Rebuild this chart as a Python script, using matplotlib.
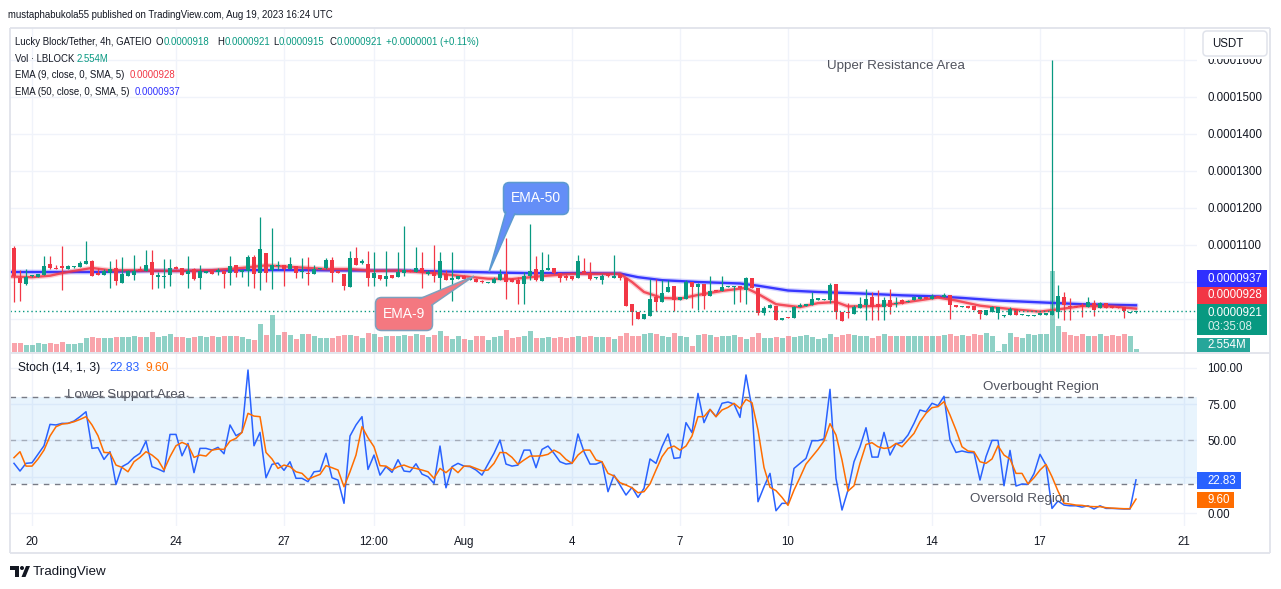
import numpy as np
import pandas as pd
import matplotlib
matplotlib.use("Agg")
import matplotlib.pyplot as plt
import matplotlib.dates as mdates
from matplotlib.patches import FancyBboxPatch, Rectangle, Polygon, Circle
from matplotlib.ticker import FuncFormatter

W, H = 1281, 589
plt.rcParams['font.family'] = ['Liberation Sans', 'DejaVu Sans']

# ---------------- data (prices in units of 1e-7 USDT) ----------------
SCALE = 1e-7
start_time = "2023-07-19 12:00"
opens = [1092, 1011, 995, 1016, 1014, 1019, 1049, 1038, 1043, 1035,
         1040, 1040, 1049, 1057, 1024, 1019, 1024, 1038, 997, 1016,
         1019, 1035, 1030, 1054, 1013, 1014, 1019, 1040, 1038, 1022,
         1035, 1011, 1024, 1030, 1027, 1030, 1024, 1046, 1027, 1030,
         1068, 1024, 1078, 1032, 1043, 1046, 1035, 1043, 1027, 1024,
         1022, 1035, 1038, 1060, 1030, 1022, 986, 1065, 1051, 1049,
         1011, 1019, 1008, 1019, 1013, 1024, 1032, 1027, 1038, 1022,
         1027, 1011, 1022, 1005, 1008, 1016, 1005, 1008, 1003, 997,
         997, 1005, 1022, 1008, 1005, 995, 1016, 1035, 1003, 1032,
         1038, 1024, 1016, 1016, 1011, 1030, 1024, 1011, 1005, 1022,
         1011, 1022, 1011, 940, 919, 900, 908, 960, 946, 973,
         989, 951, 954, 1000, 987, 995, 962, 978, 976, 987,
         987, 989, 978, 1011, 984, 916, 930, 935, 897, 905,
         903, 932, 935, 938, 951, 952, 951, 995, 919, 919,
         913, 930, 938, 960, 940, 932, 951, 940, 951, 946,
         951, 954, 960, 954, 962, 960, 965, 938, 932, 935,
         935, 924, 911, 919, 916, 908, 911, 927, 911, 908,
         908, 911, 911, 911, 919, 960, 935, 935, 938, 932,
         943, 930, 943, 935, 932, 932, 916, 918]
highs = [1097, 1032, 1035, 1019, 1022, 1070, 1070, 1046, 1097, 1046,
         1043, 1057, 1111, 1060, 1038, 1035, 1057, 1062, 1068, 1032,
         1073, 1043, 1086, 1086, 1027, 1062, 1062, 1043, 1038, 1070,
         1038, 1046, 1030, 1030, 1038, 1030, 1070, 1046, 1032, 1073,
         1073, 1176, 1078, 1146, 1057, 1046, 1068, 1043, 1065, 1068,
         1046, 1038, 1065, 1068, 1030, 1022, 1084, 1095, 1062, 1084,
         1081, 1019, 1084, 1019, 1081, 1151, 1035, 1095, 1081, 1032,
         1100, 1081, 1032, 1081, 1016, 1019, 1011, 1011, 1005, 1000,
         1013, 1035, 1119, 1011, 1013, 1027, 1157, 1070, 1081, 1076,
         1038, 1024, 1022, 1016, 1073, 1065, 1054, 1014, 1022, 1024,
         1073, 1022, 1011, 940, 919, 913, 1008, 1008, 1005, 1005,
         989, 960, 1005, 1000, 997, 995, 1016, 978, 1016, 989,
         989, 989, 1014, 1011, 984, 935, 940, 935, 903, 905,
         935, 943, 940, 973, 957, 955, 997, 995, 919, 943,
         938, 960, 981, 973, 978, 960, 981, 960, 954, 951,
         962, 962, 960, 968, 962, 970, 965, 938, 935, 935,
         935, 924, 924, 935, 932, 911, 932, 927, 913, 911,
         911, 916, 916, 1600, 992, 973, 957, 935, 943, 960,
         951, 946, 943, 935, 932, 932, 919, 921]
lows = [946, 949, 992, 1013, 1013, 1019, 1035, 1035, 978, 1035,
        1038, 1040, 1049, 1016, 1019, 1019, 984, 992, 997, 1016,
        1005, 1030, 1030, 981, 984, 984, 989, 1035, 1019, 984,
        1005, 981, 1024, 1022, 1019, 984, 992, 1013, 1013, 989,
        984, 978, 1000, 981, 1032, 989, 1035, 1011, 1011, 992,
        1022, 1035, 1035, 1000, 1024, 978, 986, 1046, 1049, 989,
        989, 1005, 989, 1011, 1013, 1016, 1027, 1027, 984, 1019,
        1000, 978, 1005, 949, 1008, 1008, 1005, 1000, 997, 997,
        997, 1005, 954, 1000, 940, 940, 1005, 1003, 1003, 1032,
        1022, 1000, 1005, 1005, 1011, 1024, 1005, 1008, 995, 1014,
        1011, 1005, 935, 884, 900, 900, 908, 922, 946, 973,
        922, 951, 954, 930, 924, 927, 962, 976, 976, 987,
        940, 946, 940, 984, 911, 911, 930, 897, 897, 903,
        903, 932, 935, 938, 951, 951, 943, 900, 895, 903,
        913, 930, 897, 897, 897, 897, 913, 932, 940, 946,
        951, 954, 954, 954, 959, 960, 900, 932, 932, 930,
        924, 900, 911, 919, 900, 906, 911, 911, 911, 908,
        908, 911, 911, 911, 903, 897, 897, 932, 905, 932,
        908, 930, 930, 930, 930, 903, 916, 915]
closes = [1016, 997, 1013, 1019, 1022, 1043, 1038, 1035, 1038, 1043,
          1041, 1051, 1057, 1016, 1019, 1030, 1035, 1003, 1022, 1030,
          1030, 1030, 1046, 1019, 1019, 1016, 1038, 1035, 1019, 1030,
          1008, 1030, 1030, 1022, 1032, 1022, 1043, 1024, 1032, 1068,
          1022, 1089, 1024, 1046, 1046, 1035, 1049, 1024, 1030, 1022,
          1035, 1038, 1060, 1024, 1024, 989, 1065, 1046, 1057, 1011,
          1024, 1008, 1016, 1011, 1027, 1032, 1027, 1038, 1024, 1027,
          1016, 1057, 1005, 1011, 1016, 1008, 1011, 1000, 1000, 1000,
          1008, 1022, 1000, 1000, 995, 1016, 1030, 1005, 1032, 1038,
          1024, 1011, 1011, 1008, 1057, 1024, 1008, 1014, 1016, 1016,
          1016, 1011, 935, 919, 900, 913, 954, 946, 970, 987,
          951, 960, 1000, 987, 995, 962, 976, 976, 987, 989,
          989, 984, 1011, 984, 916, 930, 938, 897, 903, 903,
          932, 938, 940, 954, 957, 954, 992, 919, 895, 916,
          932, 940, 954, 932, 932, 951, 932, 943, 940, 949,
          960, 960, 954, 962, 959, 965, 938, 932, 935, 930,
          924, 913, 924, 932, 932, 911, 927, 911, 913, 911,
          911, 916, 916, 922, 962, 938, 932, 932, 932, 946,
          924, 943, 930, 930, 930, 922, 919, 921]
volumes_m = [7.2, 7.2, 5.6, 5.6, 7.2, 6.4, 7.2, 6.4, 7.9, 6.4,
             6.4, 7.2, 11.0, 11.8, 11.0, 11.0, 11.0, 11.8, 11.8, 11.8,
             12.6, 11.8, 11.8, 15.6, 11.8, 12.6, 14.1, 11.8, 11.8, 11.0,
             11.8, 12.6, 11.8, 12.6, 11.8, 12.6, 12.6, 12.6, 11.8, 10.2,
             9.5, 21.8, 13.3, 28.7, 13.3, 15.6, 13.3, 10.2, 14.1, 14.1,
             12.6, 11.0, 11.0, 11.0, 12.6, 13.3, 13.3, 12.6, 11.0, 14.9,
             14.1, 11.8, 12.6, 12.6, 12.6, 13.3, 12.6, 14.1, 13.1, 11.8,
             13.1, 16.2, 12.6, 10.2, 12.6, 10.2, 9.5, 12.6, 12.6, 9.5,
             11.8, 12.6, 17.2, 11.0, 11.8, 12.6, 16.2, 11.0, 11.0, 11.8,
             11.0, 11.8, 11.0, 11.8, 12.6, 11.8, 12.6, 11.8, 11.8, 11.8,
             10.2, 12.6, 14.9, 12.6, 12.6, 14.1, 14.9, 14.1, 12.6, 11.8,
             14.9, 12.6, 11.8, 4.9, 13.3, 13.9, 13.3, 11.8, 12.6, 12.6,
             13.3, 11.8, 10.2, 11.8, 14.9, 11.0, 11.0, 11.8, 11.0, 12.6,
             11.8, 12.3, 13.1, 11.3, 10.2, 10.8, 13.9, 11.3, 13.1, 13.9,
             12.9, 12.3, 12.3, 10.8, 12.3, 13.9, 12.3, 12.3, 12.3, 12.3,
             12.3, 12.3, 12.3, 12.3, 12.3, 13.1, 13.9, 12.3, 13.1, 12.3,
             13.9, 13.1, 14.9, 12.3, 0.8, 6.2, 14.9, 11.3, 10.8, 13.9,
             13.1, 13.9, 13.9, 62.4, 20.0, 15.4, 13.1, 12.3, 13.9, 12.3,
             12.3, 13.9, 12.3, 13.1, 12.3, 13.9, 12.3, 2.55]
stoch_k = [34.2, 28.9, 34.2, 34.6, 40.4, 46.3, 61.0, 60.6, 61.7, 61.7,
           63.3, 66.3, 69.7, 44.5, 45.0, 36.9, 42.2, 19.7, 31.9, 34.2,
           38.3, 41.1, 49.5, 31.9, 30.3, 28.4, 54.1, 54.1, 39.4, 47.9,
           27.8, 44.5, 44.5, 43.3, 45.2, 40.8, 60.6, 53.2, 55.5, 98.4,
           46.3, 55.5, 24.3, 33.5, 34.4, 29.4, 35.3, 23.9, 23.9, 21.6,
           28.4, 28.9, 41.1, 24.3, 22.7, 6.7, 53.0, 60.6, 66.3, 30.0,
           39.9, 26.1, 31.9, 28.0, 36.7, 28.9, 28.4, 33.9, 26.8, 25.0,
           20.4, 46.1, 17.4, 31.9, 34.2, 32.3, 31.9, 29.6, 26.1, 33.7,
           41.1, 50.2, 33.7, 32.3, 33.0, 43.3, 43.3, 31.2, 43.8, 46.1,
           41.1, 35.3, 33.7, 34.2, 54.4, 42.2, 33.7, 33.7, 35.3, 14.7,
           26.1, 19.3, 12.4, 17.7, 10.8, 17.0, 37.2, 34.2, 45.6, 54.4,
           37.6, 38.1, 62.2, 55.3, 82.3, 62.2, 71.3, 66.3, 75.5, 76.4,
           75.0, 65.8, 95.0, 72.0, 7.8, 18.1, 27.3, 1.6, 6.7, 6.7,
           30.7, 34.2, 37.6, 49.8, 49.8, 51.0, 85.1, 23.9, 2.1, 15.8,
           35.3, 45.6, 58.7, 38.5, 38.5, 55.5, 39.9, 47.7, 48.6, 53.7,
           61.7, 70.9, 69.7, 75.5, 73.9, 80.3, 50.2, 41.7, 42.7, 41.7,
           41.5, 22.7, 38.8, 50.0, 50.0, 18.8, 43.1, 18.6, 20.0, 19.7,
           27.1, 40.4, 33.0, 3.2, 8.3, 5.5, 5.0, 5.0, 4.1, 5.0,
           2.8, 5.0, 3.2, 3.2, 3.0, 2.8, 2.8, 22.83]
stoch_d = [38.1, 42.2, 32.3, 32.3, 37.2, 43.3, 53.0, 59.4, 61.2, 61.7,
           62.8, 64.4, 66.3, 60.6, 53.2, 41.7, 41.5, 33.0, 31.4, 28.4,
           35.3, 38.3, 42.2, 39.9, 36.5, 29.6, 38.8, 46.3, 48.6, 46.8,
           38.3, 39.9, 39.2, 43.3, 44.0, 43.8, 49.5, 51.4, 55.5, 68.6,
           66.7, 66.3, 41.7, 37.2, 30.7, 33.0, 31.9, 28.4, 27.3, 23.2,
           25.0, 26.6, 32.6, 31.2, 29.6, 18.1, 28.4, 39.9, 59.4, 51.8,
           45.6, 32.6, 32.3, 29.6, 31.9, 33.0, 31.4, 30.7, 29.6, 28.4,
           23.9, 30.7, 27.8, 31.4, 27.8, 32.3, 32.3, 30.7, 29.1, 29.6,
           34.2, 41.7, 41.5, 38.3, 33.5, 36.5, 39.2, 39.2, 39.4, 40.4,
           43.3, 41.1, 36.9, 34.2, 39.9, 43.3, 43.3, 36.5, 35.3, 27.3,
           25.5, 20.9, 19.3, 17.4, 14.0, 14.7, 20.0, 29.6, 38.8, 44.5,
           46.1, 43.3, 46.1, 53.0, 66.3, 66.3, 71.3, 66.3, 70.9, 72.7,
           75.5, 72.0, 78.2, 75.9, 57.1, 31.4, 17.7, 15.4, 10.8, 5.3,
           15.8, 24.5, 33.7, 38.8, 43.8, 49.6, 61.5, 53.7, 36.5, 15.1,
           18.8, 34.2, 47.2, 48.4, 45.6, 44.5, 45.0, 47.9, 45.6, 50.2,
           54.8, 62.8, 68.6, 72.5, 73.2, 76.6, 67.4, 57.1, 45.6, 42.7,
           42.2, 35.3, 34.2, 37.2, 46.3, 39.9, 37.2, 27.3, 27.3, 20.0,
           24.3, 29.6, 33.5, 25.0, 15.1, 6.7, 6.2, 5.5, 5.3, 4.6,
           4.4, 4.4, 3.7, 3.4, 3.2, 3.0, 3.0, 9.6]
# EMA lines (candle index, value)
ema9_idx = [-1, 3, 6, 8, 10, 13, 16, 22, 27, 33, 38, 42, 47, 52, 56, 60, 64, 70, 74, 79, 83, 88, 93,
            101, 103, 105, 108, 111, 114, 118, 122, 124, 127, 131, 134, 137, 139, 144, 149, 154, 157,
            161, 166, 171, 174, 178, 183, 187]
ema9_val = [1015, 1013, 1017, 1024, 1030, 1038, 1032, 1031, 1030, 1032, 1038, 1045, 1040, 1035, 1035, 1030,
            1031, 1024, 1017, 1009, 1008, 1016, 1022, 1022, 1000, 973, 957, 955, 965, 976, 984, 968, 940,
            932, 943, 946, 934, 935, 946, 958, 950, 936, 927, 920, 926, 935, 934, 928]
ema50_idx = [-1, 6, 14, 23, 31, 39, 48, 56, 64, 73, 79, 86, 94, 101, 104, 108, 114, 121, 124, 129, 134,
             141, 148, 154, 158, 164, 171, 178, 187]
ema50_val = [1027, 1027, 1027, 1030, 1030, 1032, 1032, 1031, 1031, 1028, 1026, 1024, 1024, 1023, 1013,
             1005, 1000, 996, 990, 977, 973, 969, 964, 961, 957, 950, 945, 940, 937]

price_ticks = [900, 1000, 1100, 1200, 1300, 1400, 1500, 1600]
price_ticks_hidden = [900, 1000]          # covered by the price tags in the reference
stoch_ticks = [0, 25, 50, 75, 100]
stoch_ticks_hidden = [25]                 # covered by the 22.83 tag
x_tick_dates = ["2023-07-20 00:00", "2023-07-24 00:00", "2023-07-27 00:00", "2023-07-29 12:00",
                "2023-08-01 00:00", "2023-08-04 00:00", "2023-08-07 00:00", "2023-08-10 00:00",
                "2023-08-14 00:00", "2023-08-17 00:00", "2023-08-21 00:00"]
x_tick_labels = ["20", "24", "27", "12:00", "Aug", "4", "7", "10", "14", "17", "21"]

# ---------------- styling ----------------
GREEN = "#089981"
RED = "#f23645"
DARK = "#131722"
GRID = "#f0f3fa"
BORDER = "#e0e3eb"
EMA50_C = "#2f2fff"
K_C = "#2962ff"
D_C = "#ff6d00"
NOTE_C = "#50535e"

fig = plt.figure(figsize=(W / 100, H / 100), dpi=100)
fig.patch.set_facecolor("white")


def rect(l, t, r, b):
    return [l / W, 1 - b / H, (r - l) / W, (b - t) / H]


times = pd.date_range(start_time, periods=len(closes), freq="4h")
x = mdates.date2num(times)
t0 = mdates.date2num(pd.Timestamp(start_time))
day0 = mdates.date2num(pd.Timestamp("2023-07-20 00:00"))
xlim = (day0 + (10 - 32) / 36.0, day0 + (1197 - 32) / 36.0)
xt = mdates.date2num(pd.to_datetime(x_tick_dates, format="%Y-%m-%d %H:%M"))

o = np.array(opens) * SCALE
h = np.array(highs) * SCALE
l = np.array(lows) * SCALE
c = np.array(closes) * SCALE
vol = np.array(volumes_m)
up = c >= o
ccol = np.where(up, GREEN, RED)
vcol = [(8 / 255, 153 / 255, 129 / 255, 0.45) if u else (242 / 255, 54 / 255, 69 / 255, 0.45) for u in up]

PRICE_RECT = rect(10, 28, 1197, 352)
price_ylim = ((900 - 33 * 2.7027) * SCALE, (900 + 291 * 2.7027) * SCALE)

# grid layer (bottom)
ax_grid = fig.add_axes(PRICE_RECT, zorder=0)
ax_grid.set_xlim(*xlim)
ax_grid.set_ylim(*price_ylim)
ax_grid.axis("off")
for p in price_ticks:
    ax_grid.axhline(p * SCALE, color=GRID, lw=1.0)
for xx in xt:
    ax_grid.axvline(xx, color=GRID, lw=1.0)

# volume layer
ax_vol = fig.add_axes(PRICE_RECT, zorder=1)
ax_vol.patch.set_visible(False)
ax_vol.set_xlim(*xlim)
ax_vol.set_ylim(0, 324 * 0.77)
ax_vol.bar(x, vol, width=5.0 / 36, color=vcol, linewidth=0)
ax_vol.axis("off")

# price layer
ax = fig.add_axes(PRICE_RECT, zorder=2)
ax.patch.set_visible(False)
ax.set_xlim(*xlim)
ax.set_ylim(*price_ylim)
for s in ax.spines.values():
    s.set_visible(False)

e50x = t0 + np.array(ema50_idx) / 6.0
e9x = t0 + np.array(ema9_idx) / 6.0
ax.plot(e50x, np.array(ema50_val) * SCALE, color=EMA50_C, lw=3.6, alpha=0.22, zorder=2, solid_capstyle='round')
ax.plot(e50x, np.array(ema50_val) * SCALE, color=EMA50_C, lw=1.7, alpha=0.95, zorder=2)
ax.plot(e9x, np.array(ema9_val) * SCALE, color=RED, lw=3.6, alpha=0.22, zorder=2, solid_capstyle='round')
ax.plot(e9x, np.array(ema9_val) * SCALE, color=RED, lw=1.7, alpha=0.85, zorder=2)

ax.vlines(x, l, h, colors=ccol, lw=0.9, zorder=3)
body_lo = np.minimum(o, c)
body_h = np.maximum(np.abs(c - o), 2.2 * SCALE)
ax.bar(x, body_h, bottom=body_lo, width=4.4 / 36, color=ccol, linewidth=0, zorder=4)
ax.axhline(c[-1], color=GREEN, lw=1.0, ls=(0, (1, 2)), zorder=5)

ax.yaxis.tick_right()
ax.set_yticks([p * SCALE for p in price_ticks])
ax.yaxis.set_major_formatter(FuncFormatter(
    lambda v, pos: "" if round(v / SCALE) in price_ticks_hidden else f"{v:.7f}"))
ax.tick_params(axis="y", length=0, pad=7.5, labelsize=8.3, labelcolor=DARK)
ax.set_xticks(xt)
ax.tick_params(axis="x", length=0, labelbottom=False)

# stochastic pane
axs = fig.add_axes(rect(10, 353, 1197, 526), zorder=2)
axs.set_xlim(*xlim)
axs.set_ylim(-8.9, 110.1)
for s in axs.spines.values():
    s.set_visible(False)
for v in stoch_ticks:
    axs.axhline(v, color=GRID, lw=1.0, zorder=0)
for xx in xt:
    axs.axvline(xx, color=GRID, lw=1.0, zorder=0)
axs.axhspan(20, 80, color=(33 / 255, 150 / 255, 243 / 255), alpha=0.1, lw=0, zorder=1)
axs.axhline(80, color="#787b86", lw=1.0, ls=(0, (4, 4)), zorder=2)
axs.axhline(20, color="#787b86", lw=1.0, ls=(0, (4, 4)), zorder=2)
axs.axhline(50, color="#787b86", lw=1.0, ls=(0, (4, 4)), alpha=0.55, zorder=2)
axs.plot(x, stoch_k, color=K_C, lw=1.1, zorder=3)
axs.plot(x, stoch_d, color=D_C, lw=1.1, zorder=3)
axs.yaxis.tick_right()
axs.set_yticks(stoch_ticks)
axs.yaxis.set_major_formatter(FuncFormatter(
    lambda v, pos: "" if round(v) in stoch_ticks_hidden else f"{v:.2f}"))
axs.tick_params(axis="y", length=0, pad=7.5, labelsize=8.3, labelcolor=DARK)
axs.set_xticks(xt)
axs.set_xticklabels(x_tick_labels)
axs.tick_params(axis="x", length=0, pad=7.0, labelsize=8.3, labelcolor=DARK)

# ---------------- overlay in pixel coordinates ----------------
ov = fig.add_axes([0, 0, 1, 1], zorder=20)
ov.set_xlim(0, W)
ov.set_ylim(H, 0)
ov.axis("off")
ov.patch.set_visible(False)
renderer = fig.canvas.get_renderer()


def text_width(s, size):
    t = ov.text(0, 0, s, fontsize=size)
    w = t.get_window_extent(renderer=renderer).width
    t.remove()
    return w


def fit(s, target, base=10.0):
    return base * target / text_width(s, base)


for (xa, ya, xb, yb) in [(10, 27.5, 1270, 27.5), (10, 27.5, 10, 553), (1270, 27.5, 1270, 553),
                         (10, 553, 1270, 553), (10, 352.5, 1270, 352.5)]:
    ov.plot([xa, xb], [ya, yb], color=BORDER, lw=1.3, solid_capstyle='butt')

header = "mustaphabukola55 published on TradingView.com, Aug 19, 2023 16:24 UTC"
FS = fit(header, 328)
ov.text(8, 15, header, fontsize=FS, color=DARK, va="center", ha="left")

legend = [
    (42, FS, [(15, "Lucky Block/Tether, 4h, GATEIO", DARK), (156, "O", DARK), (161, "0.0000918", GREEN),
              (217, "H", DARK), (222, "0.0000921", GREEN), (273, "L", DARK), (278, "0.0000915", GREEN),
              (329, "C", DARK), (334, "0.0000921", GREEN), (386, "+0.0000001 (+0.11%)", GREEN)]),
    (59, FS, [(15, "Vol · LBLOCK", DARK), (77, "2.554M", GREEN)]),
    (75, FS, [(15, "EMA (9, close, 0, SMA, 5)", DARK), (130, "0.0000928", RED)]),
    (92, FS, [(15, "EMA (50, close, 0, SMA, 5)", DARK), (135, "0.0000937", EMA50_C)]),
    (368, fit("Stoch (14, 1, 3)", 82), [(18, "Stoch (14, 1, 3)", DARK), (109, "22.83", K_C), (146, "9.60", D_C)]),
]
for yy, fs, pieces in legend:
    prev_end = -1e9
    for xx, s, col in pieces:
        gap = 1.0 if len(s) == 1 or prev_end < 0 else 4.0
        xs = max(xx, prev_end + (0.5 if len(s) > 1 and col != DARK else gap))
        ov.text(xs, yy, s, fontsize=fs, color=col, va="center", ha="left")
        prev_end = xs + text_width(s, fs)

ov.text(896, 65.5, "Upper Resistance Area", fontsize=9.6, color=NOTE_C, va="center", ha="center")
ov.text(126, 395, "Lower Support Area", fontsize=9.6, color=NOTE_C, va="center", ha="center", zorder=1)
ov.plot([64, 188], [396, 396], color="#787b86", lw=1.0, ls=(0, (4, 4)), zorder=2)
ov.text(1041, 387, "Overbought Region", fontsize=9.6, color=NOTE_C, va="center", ha="center")
ov.text(1020, 499, "Oversold Region", fontsize=9.6, color=NOTE_C, va="center", ha="center")

BLUE_BOX, BLUE_EDGE = "#648ef7", "#5c9ad0"
RED_BOX, RED_EDGE = "#f47880", "#7fa0bd"
ov.add_patch(FancyBboxPatch((503.5, 182.5), 65, 32, boxstyle="round,pad=0,rounding_size=6",
                            fc=BLUE_BOX, ec=BLUE_EDGE, lw=1.1, zorder=3))
ov.add_patch(Polygon([(507, 208), (516, 211), (489, 272)], closed=True, fc=BLUE_BOX, ec=BLUE_EDGE,
                     lw=1.1, zorder=4))
ov.add_patch(FancyBboxPatch((505, 184), 62, 29, boxstyle="round,pad=0,rounding_size=5",
                            fc=BLUE_BOX, ec="none", zorder=5))
ov.text(536, 198.5, "EMA-50", fontsize=10, color="white", va="center", ha="center", zorder=6)

ov.add_patch(FancyBboxPatch((375.5, 297.5), 57, 33, boxstyle="round,pad=0,rounding_size=6",
                            fc=RED_BOX, ec=RED_EDGE, lw=1.1, zorder=3))
ov.add_patch(Polygon([(412, 302), (429, 307), (474, 276)], closed=True, fc=RED_BOX, ec=RED_EDGE,
                     lw=1.1, zorder=4))
ov.add_patch(FancyBboxPatch((377, 299), 54, 30, boxstyle="round,pad=0,rounding_size=5",
                            fc=RED_BOX, ec="none", zorder=5))
ov.text(404, 314.5, "EMA-9", fontsize=10, color="white", va="center", ha="center", zorder=6)

# USDT button (its white margin hides the top of the 0.0001600 label)
ov.add_patch(Rectangle((1199, 30), 70, 28.5, fc="white", ec="none", zorder=2))
ov.add_patch(FancyBboxPatch((1203, 31), 64, 25, boxstyle="round,pad=0,rounding_size=4",
                            fc="white", ec=BORDER, lw=1.1, zorder=3))
ov.text(1212, 44, "USDT", fontsize=8.3, color=DARK, va="center", ha="left", zorder=4)


def tag(x0, y0, x1, y1, col, lines):
    ov.add_patch(Rectangle((x0, y0), x1 - x0, y1 - y0, fc=col, ec="none", zorder=3))
    for yy, s, a in lines:
        ov.text(x0 + 10, yy, s, fontsize=8.3, color="white", alpha=a, va="center", ha="left", zorder=4)


tag(1197, 270, 1267, 287, EMA50_C, [(278.5, "0.0000937", 1)])
tag(1197, 287, 1267, 304, RED, [(295.5, "0.0000928", 1)])
tag(1197, 304, 1267, 335, GREEN, [(312.5, "0.0000921", 1), (327, "03:35:08", 0.85)])
tag(1197, 338, 1250, 352, "#26a69a", [(345, "2.554M", 1)])
tag(1197, 472, 1241, 489, K_C, [(480.5, "22.83", 1)])
tag(1197, 492, 1234, 508, D_C, [(500, "9.60", 1)])

ov.add_patch(Rectangle((10, 566), 9, 3.5, fc=DARK, ec="none"))
ov.add_patch(Rectangle((14.5, 566), 4.5, 11, fc=DARK, ec="none"))
ov.add_patch(Circle((22, 568), 2.0, fc=DARK, ec="none"))
ov.add_patch(Polygon([(21.5, 577), (26, 566), (30, 566), (25.5, 577)], closed=True, fc=DARK, ec="none"))
ov.text(33, 571.5, "TradingView", fontsize=9.6, color=DARK, va="center", ha="left")

fig.savefig("out.png", dpi=100, facecolor="white")
